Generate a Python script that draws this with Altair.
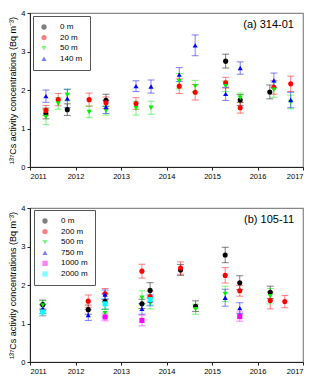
import altair as alt
import pandas as pd

# ---------------- Panel (a) 314-01 ----------------
a_names = ["0 m", "20 m", "50 m", "140 m"]
a_colors = ["#000000", "#ff0000", "#00ee00", "#0000ff"]
a_shapes = ["circle", "circle", "triangle-down", "triangle-up"]

a_x = {
    "0 m": [2011.35, 2011.82, 2012.67, 2015.30, 2015.62, 2016.27],
    "20 m": [2011.35, 2011.62, 2012.30, 2012.67, 2013.33, 2014.28, 2014.63, 2015.30, 2015.62, 2016.36, 2016.73],
    "50 m": [2011.35, 2011.62, 2011.82, 2012.30, 2012.67, 2013.33, 2013.66, 2014.28, 2014.63, 2015.30, 2015.62, 2016.36, 2016.73],
    "140 m": [2011.35, 2011.82, 2012.67, 2013.33, 2013.66, 2014.28, 2014.63, 2015.30, 2015.62, 2016.36, 2016.73],
}
a_y = {
    "0 m": [1.39, 1.49, 1.73, 2.75, 1.74, 1.95],
    "20 m": [1.47, 1.75, 1.75, 1.67, 1.65, 2.10, 1.94, 2.19, 1.54, 2.07, 2.16],
    "50 m": [1.30, 1.65, 1.87, 1.43, 1.47, 1.53, 1.54, 2.23, 2.10, 2.10, 1.80, 2.01, 1.69],
    "140 m": [1.84, 1.78, 1.56, 2.10, 2.09, 2.40, 3.16, 1.90, 2.57, 2.25, 1.74],
}
a_err = {
    "0 m": [0.14, 0.15, 0.16, 0.18, 0.14, 0.18],
    "20 m": [0.13, 0.16, 0.17, 0.15, 0.15, 0.19, 0.20, 0.14, 0.14, 0.18, 0.20],
    "50 m": [0.20, 0.15, 0.15, 0.15, 0.12, 0.18, 0.17, 0.20, 0.15, 0.14, 0.12, 0.20, 0.18],
    "140 m": [0.16, 0.24, 0.17, 0.14, 0.17, 0.18, 0.27, 0.17, 0.16, 0.19, 0.20],
}

# ---------------- Panel (b) 105-11 ----------------
b_names = ["0 m", "200 m", "500 m", "750 m", "1000 m", "2000 m"]
b_colors = ["#000000", "#ff0000", "#00ee00", "#0000ff", "#ff00ff", "#00ffff"]
b_shapes = ["circle", "circle", "triangle-down", "triangle-up", "square", "square"]

b_x = {
    "0 m": [2011.28, 2012.28, 2012.65, 2013.46, 2013.64, 2014.31, 2014.64, 2015.29, 2015.61, 2016.28],
    "200 m": [2011.28, 2012.28, 2012.65, 2013.46, 2013.64, 2014.31, 2015.29, 2015.61, 2016.28, 2016.60],
    "500 m": [2011.28, 2012.65, 2013.46, 2013.64, 2014.64, 2015.29, 2016.28],
    "750 m": [2011.28, 2012.28, 2012.65, 2013.46, 2013.64, 2015.29, 2015.61],
    "1000 m": [2012.65, 2013.46, 2015.61],
    "2000 m": [2011.28, 2012.65, 2013.64],
}
b_y = {
    "0 m": [1.49, 1.36, 1.57, 1.51, 1.86, 2.39, 1.45, 2.78, 2.06, 1.81],
    "200 m": [1.34, 1.58, 1.77, 2.36, 1.70, 2.44, 2.25, 1.85, 1.60, 1.57],
    "500 m": [1.47, 1.27, 1.67, 1.53, 1.37, 1.77, 1.71],
    "750 m": [1.38, 1.22, 1.75, 1.38, 1.60, 1.67, 1.40],
    "1000 m": [1.17, 1.08, 1.18],
    "2000 m": [1.30, 1.51, 1.62],
}
b_err = {
    "0 m": [0.12, 0.12, 0.20, 0.12, 0.20, 0.14, 0.14, 0.20, 0.18, 0.16],
    "200 m": [0.14, 0.16, 0.14, 0.18, 0.14, 0.16, 0.20, 0.14, 0.22, 0.16],
    "500 m": [0.12, 0.10, 0.18, 0.15, 0.13, 0.20, 0.20],
    "750 m": [0.12, 0.14, 0.12, 0.14, 0.14, 0.22, 0.14],
    "1000 m": [0.10, 0.14, 0.12],
    "2000 m": [0.10, 0.14, 0.14],
}

years = [2011, 2012, 2013, 2014, 2015, 2016, 2017]
yticks = [0, 1, 2, 3, 4]
ytitle = "¹³⁷Cs activity concentrations (Bq m⁻³)"
FONT = "Liberation Sans"


def build_df(names, colors, xs, ys, errs):
    rows = []
    for n, c in zip(names, colors):
        for xv, yv, ev in zip(xs[n], ys[n], errs[n]):
            rows.append({"depth": n, "x": xv, "y": yv, "lo": yv - ev, "hi": yv + ev, "ecol": c})
    return pd.DataFrame(rows)


def panel(names, colors, shapes, xs, ys, errs, label, lx, ly):
    df = build_df(names, colors, xs, ys, errs)
    xenc = alt.X("x:Q", scale=alt.Scale(domain=[2011, 2017], nice=False, zero=False),
                 axis=alt.Axis(values=years, format="d", title=None, grid=False))
    yaxis = alt.Axis(values=yticks, title=ytitle, grid=False)
    bars = alt.Chart(df).mark_errorbar(ticks={"size": 7, "opacity": 0.5}, opacity=0.5, thickness=1).encode(
        x=xenc,
        y=alt.Y("lo:Q", scale=alt.Scale(domain=[0, 4], nice=False), axis=yaxis),
        y2="hi:Q",
        color=alt.Color("ecol:N", scale=None),
    )
    leg = alt.Legend(title=None, orient="none", legendX=lx, legendY=ly,
                     strokeColor="#555555", fillColor="white",
                     padding=7, labelFontSize=8, symbolSize=28,
                     rowPadding=2.6, labelOffset=12, labelFont=FONT)
    pts = alt.Chart(df).mark_point(filled=True, size=26, opacity=1).encode(
        x=xenc,
        y=alt.Y("y:Q", scale=alt.Scale(domain=[0, 4], nice=False), axis=yaxis),
        color=alt.Color("depth:N", scale=alt.Scale(domain=names, range=colors), legend=leg),
        shape=alt.Shape("depth:N", scale=alt.Scale(domain=names, range=shapes), legend=leg),
    )
    txt = alt.Chart(pd.DataFrame({"t": [label]})).mark_text(
        align="right", baseline="middle", fontSize=11, font=FONT, color="black"
    ).encode(x=alt.value(264), y=alt.value(12), text="t:N")
    return alt.layer(bars, pts, txt).properties(width=273, height=154)


pa = panel(a_names, a_colors, a_shapes, a_x, a_y, a_err, "(a) 314-01", 3, 3)
pb = panel(b_names, b_colors, b_shapes, b_x, b_y, b_err, "(b) 105-11", 4, 2)

chart = alt.vconcat(pa, pb, spacing=22).resolve_scale(
    color="independent", shape="independent"
).properties(padding={"left": 0, "top": 0, "right": 5, "bottom": 0}).configure_view(
    stroke="#888888", strokeWidth=1.2
).configure_axis(
    labelFontSize=7.5, titleFontSize=9, labelFont=FONT, titleFont=FONT,
    domainColor="#222222", tickColor="#222222", tickSize=3, labelColor="black",
    titleColor="black", titleFontWeight="normal", labelPadding=2, titlePadding=3
)

chart.save("out.html", embed_options={"renderer": "svg", "actions": False})
